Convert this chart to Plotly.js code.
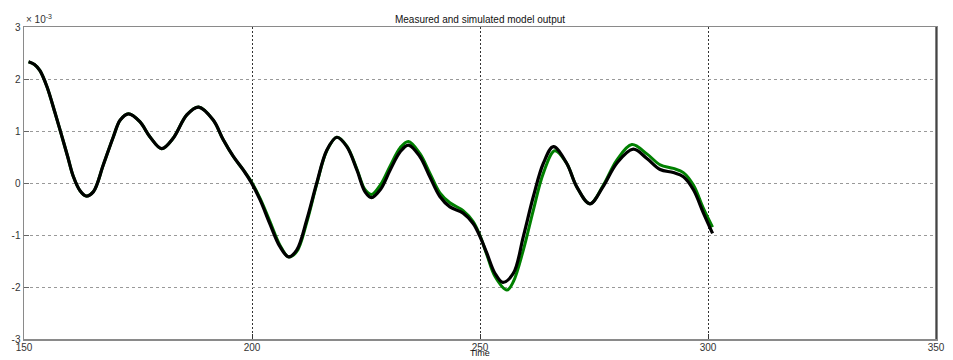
<!DOCTYPE html>
<html>
<head>
<meta charset="utf-8">
<script src="https://cdn.plot.ly/plotly-3.0.1.min.js"></script>
<style>html,body{margin:0;padding:0;background:#fff;}#chart{width:953px;height:360px;}</style>
</head>
<body>
<div id="chart"></div>
<script>
// Values in units of 1e-3
var timeMeasured = [151, 152.3, 153.5, 155, 156.8, 158.2, 159.6, 160.8, 162.3, 163.6, 165.2, 167.4, 169.6, 171.1, 172.9, 175.4, 177.6, 180.2, 182.7, 185.7, 188.3, 191.5, 193.7, 195.9, 198.1, 199.9, 201.8, 203.9, 206.1, 208.0, 209.8, 212.0, 214.2, 216.4, 218.6, 220.8, 223.0, 224.8, 226.2, 228.2, 230.3, 232.5, 234.3, 236.8, 239.0, 241.2, 243.4, 246.3, 248.5, 250.0, 251.5, 253.3, 255.0, 257.3, 259.5, 261.7, 263.9, 266.1, 269.0, 271.2, 274.1, 277.0, 280.0, 283.6, 286.6, 289.5, 292.4, 294.6, 296.8, 299.0, 301];
var measured = [2.33, 2.28, 2.16, 1.86, 1.35, 0.93, 0.50, 0.13, -0.15, -0.25, -0.17, 0.35, 0.89, 1.21, 1.33, 1.18, 0.89, 0.66, 0.86, 1.31, 1.46, 1.21, 0.83, 0.51, 0.25, 0.0, -0.33, -0.78, -1.22, -1.42, -1.29, -0.71, 0.0, 0.63, 0.88, 0.70, 0.25, -0.17, -0.28, -0.12, 0.25, 0.60, 0.73, 0.51, 0.12, -0.26, -0.46, -0.58, -0.78, -1.03, -1.35, -1.74, -1.91, -1.74, -1.03, -0.26, 0.38, 0.70, 0.38, -0.07, -0.40, -0.07, 0.38, 0.65, 0.47, 0.26, 0.20, 0.12, -0.13, -0.58, -0.97];

var timeSimulated = [151, 152.3, 153.5, 155, 156.8, 158.2, 159.6, 160.8, 162.3, 163.6, 165.2, 167.4, 169.6, 171.1, 172.9, 175.4, 177.6, 180.2, 182.7, 185.7, 188.3, 191.5, 193.7, 195.9, 198.1, 199.9, 201.8, 203.9, 206.1, 208.0, 209.8, 212.0, 214.2, 216.4, 218.6, 220.8, 223.0, 224.8, 226.2, 228.2, 230.3, 232.5, 234.3, 236.8, 239.0, 241.2, 243.4, 246.3, 248.5, 250.0, 251.5, 253.3, 255.9, 257.3, 259.5, 261.7, 263.9, 266.4, 269.0, 271.2, 274.1, 277.0, 280.0, 283.3, 286.6, 289.5, 292.4, 294.6, 296.8, 299.0, 301];
var simulated = [2.33, 2.28, 2.16, 1.86, 1.35, 0.93, 0.50, 0.13, -0.15, -0.25, -0.17, 0.35, 0.89, 1.21, 1.33, 1.18, 0.89, 0.66, 0.86, 1.31, 1.46, 1.21, 0.83, 0.51, 0.25, 0.02, -0.30, -0.73, -1.19, -1.42, -1.32, -0.76, -0.02, 0.62, 0.88, 0.71, 0.27, -0.13, -0.22, -0.03, 0.33, 0.68, 0.80, 0.57, 0.19, -0.19, -0.38, -0.53, -0.74, -1.01, -1.38, -1.80, -2.06, -1.90, -1.29, -0.52, 0.19, 0.62, 0.38, -0.07, -0.40, -0.05, 0.44, 0.74, 0.56, 0.35, 0.28, 0.20, -0.04, -0.49, -0.85];

var xTicks = [150, 200, 250, 300, 350];
var yTicks = [-3, -2, -1, 0, 1, 2, 3];

var fontFam = 'Liberation Sans, Arial, sans-serif';

var traces = [
  {x: timeSimulated, y: simulated, type: 'scatter', mode: 'lines', name: 'Simulated',
   line: {color: 'rgb(0,128,0)', width: 3, shape: 'spline', smoothing: 1}},
  {x: timeMeasured, y: measured, type: 'scatter', mode: 'lines', name: 'Measured',
   line: {color: '#000000', width: 3.2, shape: 'spline', smoothing: 1}}
];

var layout = {
  width: 953, height: 360,
  margin: {l: 24, r: 17, t: 27, b: 21},
  paper_bgcolor: '#ffffff', plot_bgcolor: '#ffffff',
  showlegend: false,
  font: {family: fontFam, size: 10, color: '#333'},
  title: {text: 'Measured and simulated model output', font: {family: fontFam, size: 10, color: '#111'},
          x: 0.5, xref: 'paper', xanchor: 'center', y: 1, yref: 'paper', yanchor: 'bottom', pad: {b: 4}},
  xaxis: {
    range: [150, 350], tickvals: xTicks, ticktext: xTicks.map(String),
    showgrid: true, gridcolor: '#333', griddash: '2px,2px', gridwidth: 1,
    showline: true, linecolor: '#8a8a8a', linewidth: 1.5, mirror: true,
    ticks: 'inside', ticklen: 5, tickcolor: '#333', ticklabelstandoff: -2,
    zeroline: false, tickfont: {family: fontFam, size: 10, color: '#333'}
  },
  yaxis: {
    range: [-3, 3], tickvals: yTicks, ticktext: yTicks.map(String),
    showgrid: true, gridcolor: '#999', griddash: '3px,3px', gridwidth: 1,
    showline: true, linecolor: '#8a8a8a', linewidth: 1.5, mirror: true,
    ticks: 'inside', ticklen: 5, tickcolor: '#666',
    zeroline: false, tickfont: {family: fontFam, size: 10, color: '#333'}
  },
  shapes: [
    {type: 'line', xref: 'paper', yref: 'paper', x0: 1, x1: 1, y0: 0, y1: 1, line: {color: '#000', width: 1}}
  ],
  annotations: [
    {text: '× 10<sup>-3</sup>', xref: 'paper', yref: 'paper', x: 0, y: 1, xanchor: 'left', yanchor: 'bottom',
     showarrow: false, font: {family: fontFam, size: 10, color: '#333'}},
    {text: 'Time', xref: 'paper', yref: 'paper', x: 0.5, y: 0, xanchor: 'center', yanchor: 'bottom', yshift: -21,
     showarrow: false, font: {family: fontFam, size: 9, color: '#111'}}
  ]
};

Plotly.newPlot('chart', traces, layout, {displayModeBar: false, staticPlot: true});
</script>
</body>
</html>
